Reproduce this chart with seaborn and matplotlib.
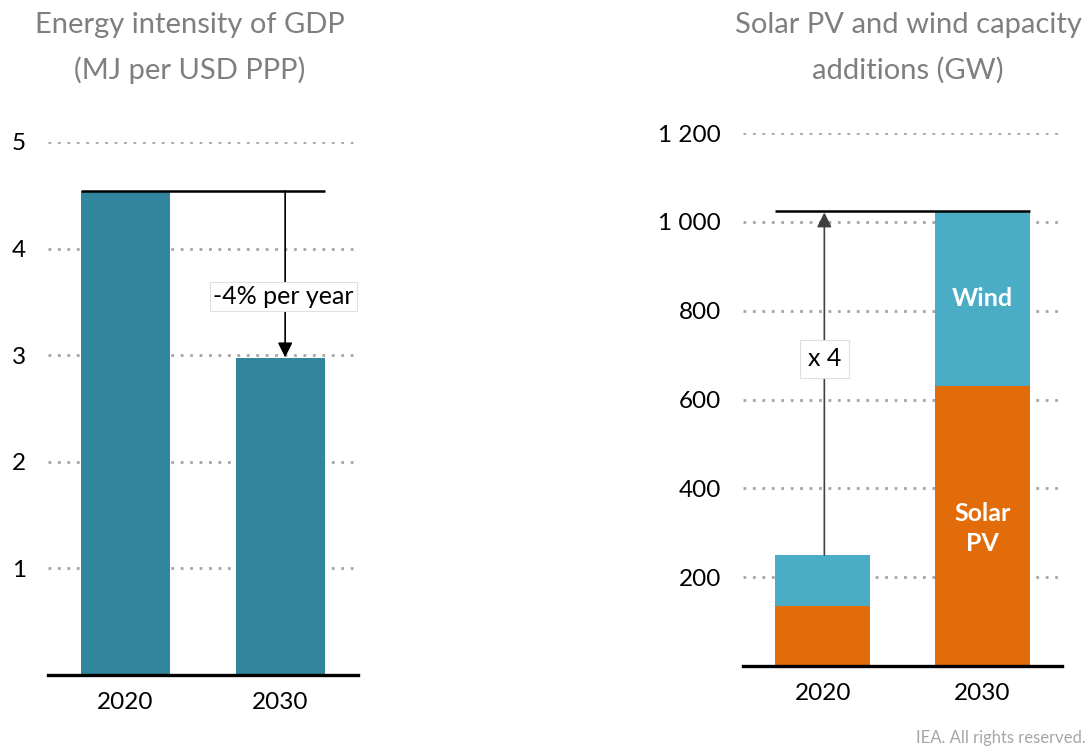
import matplotlib
matplotlib.use("Agg")
import matplotlib.pyplot as plt
from matplotlib.ticker import FuncFormatter
import seaborn as sns
import pandas as pd

# Data
years = ["2020", "2030"]
energy_intensity = [4.54, 2.97]          # MJ per USD PPP
solar_pv = [136, 630]                    # GW
wind = [114, 395]                        # GW

TEAL = "#31859C"
ORANGE = "#E36C0A"
LIGHTBLUE = "#4BACC6"
GRID = "#a6a6a6"
TITLE_GREY = "#7f7f7f"

sns.set_theme(style="white")
plt.rcParams["font.family"] = ["Lato", "DejaVu Sans"]

W, H = 1089, 747
fig = plt.figure(figsize=(W / 100, H / 100), dpi=100)

TICK_FS = 17.5
NOTE_FS = 18
TITLE_FS = 21


def px_axes(x0, x1, y_top, y_bottom):
    return fig.add_axes([x0 / W, 1 - y_bottom / H, (x1 - x0) / W, (y_bottom - y_top) / H])


def style_axis(ax):
    for s in ("left", "right", "top"):
        ax.spines[s].set_visible(False)
    ax.spines["bottom"].set_color("black")
    ax.spines["bottom"].set_linewidth(2.4)
    ax.yaxis.grid(True, linestyle=(0, (1, 2.4)), color=GRID, linewidth=2)
    ax.xaxis.grid(False)
    ax.set_axisbelow(True)
    ax.tick_params(axis="y", length=0, pad=16, labelsize=TICK_FS, labelcolor="black")
    ax.tick_params(axis="x", length=0, pad=12, labelsize=TICK_FS, labelcolor="black")
    ax.set_xlabel("")
    ax.set_ylabel("")
    ax.set_xlim(-0.5, 1.5)


# ---- Left panel: energy intensity ----
ax1 = px_axes(48, 358, 142, 675)
df1 = pd.DataFrame({"year": years, "value": energy_intensity})
sns.barplot(data=df1, x="year", y="value", color=TEAL, saturation=1,
            width=0.58, linewidth=0, ax=ax1)
style_axis(ax1)
ax1.set_ylim(0, 5)
ax1.set_yticks([1, 2, 3, 4, 5])

w1 = 0.58
ax1.plot([0 - w1 / 2, 1 + w1 / 2], [energy_intensity[0]] * 2, color="black",
         lw=1.8, solid_capstyle="butt", zorder=4)
ax1.annotate("", xy=(1.03, energy_intensity[1] + 0.01),
             xytext=(1.03, energy_intensity[0]),
             arrowprops=dict(arrowstyle="-|>", color="black", lw=1.2,
                             mutation_scale=22, shrinkA=0, shrinkB=0), zorder=4)
ax1.text(1.02, 3.55, "-4% per year", ha="center", va="center", fontsize=NOTE_FS,
         color="black", zorder=5,
         bbox=dict(boxstyle="square,pad=0.12", fc="white", ec="#e0e0e0", lw=0.8))

# ---- Right panel: solar PV and wind capacity additions ----
ax2 = px_axes(743, 1062, 133, 666)
totals = [s + w for s, w in zip(solar_pv, wind)]
df2 = pd.DataFrame({"year": years, "solar": solar_pv, "total": totals})
sns.barplot(data=df2, x="year", y="total", color=LIGHTBLUE, saturation=1,
            width=0.595, linewidth=0, ax=ax2)
sns.barplot(data=df2, x="year", y="solar", color=ORANGE, saturation=1,
            width=0.595, linewidth=0, ax=ax2)
style_axis(ax2)
ax2.set_ylim(0, 1200)
ax2.set_yticks([200, 400, 600, 800, 1000, 1200])
ax2.yaxis.set_major_formatter(FuncFormatter(lambda v, _: f"{int(v):,}".replace(",", " ")))

w2 = 0.595
ax2.plot([0 - w2 / 2, 1 + w2 / 2], [totals[1]] * 2, color="black",
         lw=1.8, solid_capstyle="butt", zorder=4)
ax2.annotate("", xy=(0.01, totals[1] - 4), xytext=(0.01, totals[0]),
             arrowprops=dict(arrowstyle="-|>", color="#404040", lw=1.2,
                             mutation_scale=22, shrinkA=0, shrinkB=0), zorder=4)
ax2.text(0.01, 692, "x 4", ha="center", va="center", fontsize=NOTE_FS,
         color="black", zorder=5,
         bbox=dict(boxstyle="square,pad=0.3", fc="white", ec="#e0e0e0", lw=0.8))
ax2.text(1, solar_pv[1] + wind[1] / 2, "Wind", ha="center", va="center",
         fontsize=NOTE_FS, fontweight="bold", color="white", zorder=5)
ax2.text(1, 310, "Solar\nPV", ha="center", va="center", fontsize=NOTE_FS,
         fontweight="bold", color="white", linespacing=1.35, zorder=5)

# ---- Titles and credit ----
fig.text(190 / W, 1 - 25 / H, "Energy intensity of GDP", ha="center", va="center",
         fontsize=TITLE_FS, color=TITLE_GREY)
fig.text(190 / W, 1 - 70 / H, "(MJ per USD PPP)", ha="center", va="center",
         fontsize=TITLE_FS, color=TITLE_GREY)
fig.text(908 / W, 1 - 25 / H, "Solar PV and wind capacity", ha="center", va="center",
         fontsize=TITLE_FS, color=TITLE_GREY)
fig.text(908 / W, 1 - 70 / H, "additions (GW)", ha="center", va="center",
         fontsize=TITLE_FS, color=TITLE_GREY)
fig.text(1086 / W, 1 - 738 / H, "IEA. All rights reserved.", ha="right", va="center",
         fontsize=12, color="#a6a6a6")

fig.savefig("out.png", dpi=100)
